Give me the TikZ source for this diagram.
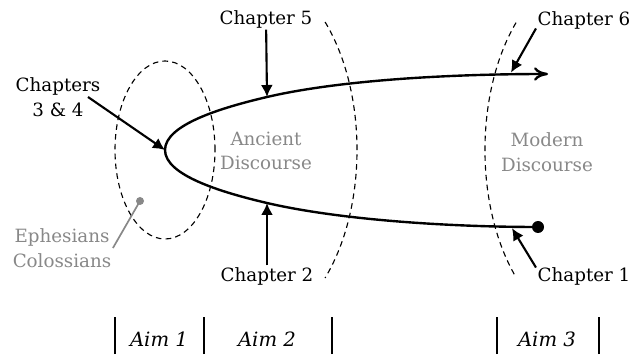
\documentclass[tikz,border=0pt]{standalone}
\usepackage{fontspec}
\setmainfont{DejaVu Serif}
\usepackage{tikz}
\usetikzlibrary{arrows.meta, positioning, calc}
\definecolor{ink}  {HTML}{000000}
\definecolor{muted}{HTML}{888888}
\tikzset{
  chap/.style={text=ink, font=\fontsize{13}{17.5}\selectfont, inner sep=1pt},
  faint/.style={text=muted, font=\fontsize{13}{17.5}\selectfont, align=center, inner sep=1pt},
  aim/.style={text=ink, font=\fontsize{14}{17.5}\selectfont\itshape, inner sep=1pt},
  pointer/.style={ink, line width=1.5pt, -{Latex[length=3mm, width=3mm]}},
  region/.style={ink, line width=0.8pt, dash pattern=on 4pt off 3pt},
  aimbar/.style={ink, line width=1.1pt},
}
\begin{document}
\begin{tikzpicture}
    \useasboundingbox (0,0) rectangle (15.775,8.925);

    % discourse regions
    \draw[region] (4.125,5.175) ellipse [x radius=1.25, y radius=2.225];
    \draw[region] (8.127,8.375) arc[start angle=45, end angle=-45, x radius=2.725, y radius=4.525];
    \draw[region] (12.9,8.357) arc[start angle=135, end angle=225, x radius=2.65, y radius=4.5];

    % the line of the argument
    \coordinate (start)  at (13.45,3.25);
    \coordinate (low)    at (6.675,3.85);
    \coordinate (turn)   at (4.125,5.175);
    \coordinate (high)   at (6.675,6.5);
    \coordinate (finish) at (13.7,7.075);
    \coordinate (c1)     at (12.8,3.22);
    \coordinate (c6)     at (12.775,7.11);
    \draw[ink, line width=1.7pt, -{To[length=3.5mm, width=3.4mm]}]
        (start) .. controls (11.25,3.25) and (8.5,3.425) .. (low)
                .. controls (5.5,4.125) and (4.125,4.55) .. (turn)
                .. controls (4.125,5.8) and (5.5,6.225) .. (high)
                .. controls (8.5,6.925) and (11.25,7.075) .. (finish);
    \fill[ink] (start) circle (0.15);

    % chapters
    \node[chap] (ch5) at (6.65,8.45) {Chapter 5};
    \node[chap] (ch6) at (14.6,8.425) {Chapter 6};
    \node[chap, align=center] (ch34) at (1.45,6.5) {Chapters\\3 \& 4};
    \node[chap] (ch2) at (6.675,2.025) {Chapter 2};
    \node[chap] (ch1) at (14.6,2.025) {Chapter 1};

    \draw[pointer] (ch5) -- (high);
    \draw[pointer] (ch6.190) -- (c6);
    \draw[pointer] ([xshift=-3.5mm]ch34.east) -- (turn);
    \draw[pointer] (ch2) -- (low);
    \draw[pointer] (ch1.170) -- (c1);

    % grey notes
    \node[faint] (anc) at (6.65,5.15) {Ancient\\Discourse};
    \node[faint] (mod) at (13.675,5.125) {Modern\\Discourse};
    \node[faint] (eph) at (1.55,2.725) {Ephesians\\Colossians};
    \coordinate (letters) at (3.5,3.9);
    \draw[muted, line width=1.2pt] (eph.east) -- (letters);
    \fill[muted] (letters) circle (0.1);

    % aims
    \foreach \x in {2.875, 5.1, 8.3, 12.425, 14.975}
        \draw[aimbar] (\x,0.075) -- (\x,1.0);
    \node[aim] (aim1) at (3.975,0.45) {Aim 1};
    \node[aim] (aim2) at (6.675,0.45) {Aim 2};
    \node[aim] (aim3) at (13.675,0.45) {Aim 3};
\end{tikzpicture}
\end{document}
